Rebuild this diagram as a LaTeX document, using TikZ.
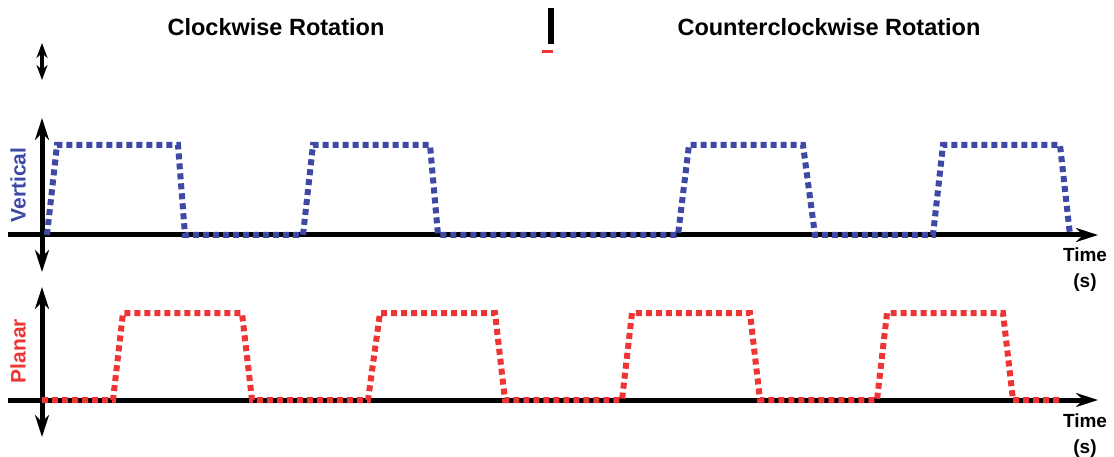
\documentclass[tikz,border=0pt]{standalone}
\usepackage{fontspec}
\setmainfont{Liberation Sans}
\usetikzlibrary{arrows.meta}
\definecolor{vblue}{RGB}{62,72,165}
\definecolor{pred}{RGB}{238,52,52}

\begin{document}
\begin{tikzpicture}[x=1pt,y=-1pt,
	axis/.style={line width=5pt,{Stealth[length=22pt,width=14pt]}-{Stealth[length=22pt,width=14pt]}},
	taxis/.style={line width=5pt,-{Stealth[length=22pt,width=14pt]}},
	wave/.style={line width=6pt,dash pattern=on 6pt off 4pt},
	lbl/.style={font=\fontsize{23.5}{27}\selectfont\bfseries},
	side/.style={font=\fontsize{21}{25}\selectfont\bfseries,rotate=90},
	unit/.style={font=\fontsize{19}{26}\selectfont\bfseries,align=center}]
		
		\useasboundingbox (0,0) rectangle (1114,457);
		
		\node(cw) at (276,27)[lbl]{Clockwise Rotation};
		\node(ccw) at (829,27)[lbl]{Counterclockwise Rotation};
		\node(vert) at (18,185)[side,text=vblue]{Vertical};
		\node(plan) at (18,351)[side,text=pred]{Planar};
		\node(t1) at (1085,270)[unit]{Time\\(s)};
		\node(t2) at (1085,436)[unit]{Time\\(s)};
		
		\coordinate(a1) at (42,43);
		\coordinate(a2) at (42,80);
		\coordinate(v1) at (42,118);
		\coordinate(v2) at (42,272);
		\coordinate(h1) at (8,235);
		\coordinate(h2) at (1098,235);
		\coordinate(p1) at (42,287);
		\coordinate(p2) at (42,437);
		\coordinate(q1) at (8,400);
		\coordinate(q2) at (1098,400);
			\draw[line width=3.5pt,{Stealth[length=15pt,width=11pt]}-{Stealth[length=15pt,width=11pt]}] (a1) -- (a2);
			\draw[axis] (v1) -- (v2);
			\draw[taxis] (h1) -- (h2);
			\draw[axis] (p1) -- (p2);
			\draw[taxis] (q1) -- (q2);
		
		\fill (548,8) rectangle (554,44);
		\fill[pred] (542,50) rectangle (553,53);
		
		% vertical signal
		\draw[wave,vblue] (47,235) -- (57,145) -- (178,145) -- (185,235) -- (303,235) -- (313,145) -- (430,145) -- (438,235)
			-- (678,235) -- (689,145) -- (803,145) -- (815,235) -- (933,235) -- (943,145) -- (1060,145) -- (1070,235);
		% planar signal
		\draw[wave,pred] (42,400) -- (113,400) -- (123,313) -- (242,313) -- (252,400) -- (368,400) -- (380,313) -- (495,313) -- (505,400)
			-- (622,400) -- (632,313) -- (750,313) -- (760,400) -- (877,400) -- (887,313) -- (1003,313) -- (1013,400) -- (1060,400);
		
	\end{tikzpicture}
\end{document}
